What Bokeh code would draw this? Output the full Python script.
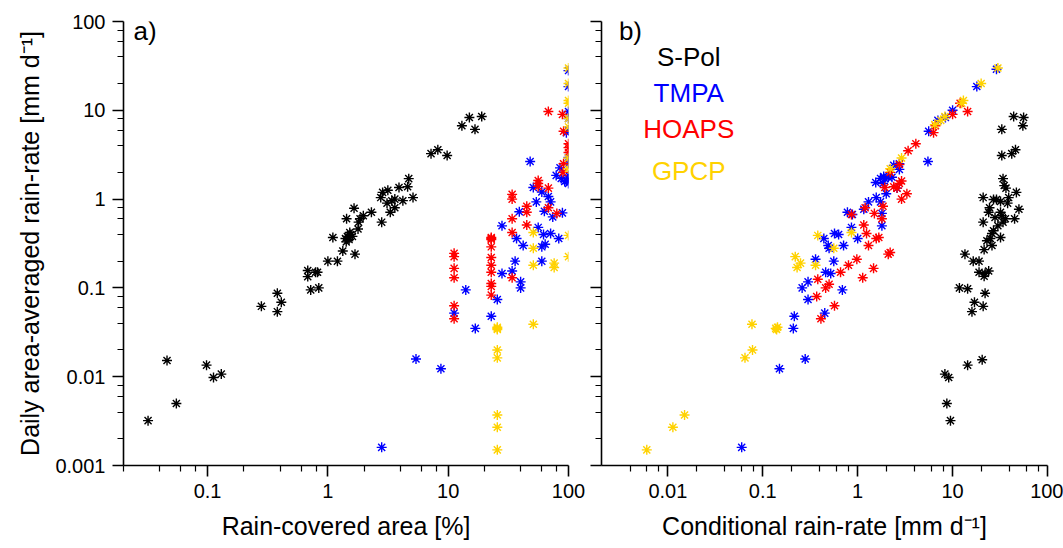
from bokeh.plotting import figure
from bokeh.layouts import row
from bokeh.models import FixedTicker, CustomJSTickFormatter, Label, Range1d
from bokeh.embed import file_html
from bokeh.resources import INLINE

# ---------------- data ----------------
# Panel a): rain-covered area [%] vs daily area-averaged rain-rate [mm/d]
spol_area = [0.032, 0.046, 0.055, 0.098, 0.112, 0.13, 0.28, 0.38, 0.41, 0.38, 0.72, 0.84,
             0.68, 0.79, 0.68, 0.82, 1.0, 1.2, 1.33, 1.68, 1.1, 1.4, 1.45, 1.5, 1.55, 1.42,
             1.52, 1.48, 1.6, 1.78, 1.8, 1.85, 1.97, 1.43, 1.65, 2.3, 2.8, 2.75, 2.85, 3.15,
             3.1, 3.4, 3.6, 3.3, 3.6, 4.2, 3.9, 4.6, 4.7, 5.1, 7.2, 8.2, 9.8, 13, 15, 19, 16.7]
spol_rate_a = [0.0032, 0.0152, 0.005, 0.0135, 0.0098, 0.0107, 0.062, 0.087, 0.069, 0.054, 0.095, 0.10,
               0.134, 0.15, 0.157, 0.15, 0.2, 0.2, 0.26, 0.24, 0.37, 0.36, 0.38, 0.35, 0.4, 0.33,
               0.42, 0.37, 0.38, 0.46, 0.55, 0.6, 0.65, 0.6, 0.79, 0.71, 0.55, 1.04, 1.19, 1.26,
               0.9, 0.96, 1.0, 0.71, 0.8, 0.96, 1.35, 1.38, 1.7, 1.04, 3.25, 3.6, 3.1, 6.7, 8.3, 8.5, 6.1]

tmpa_area = [2.8, 5.4, 8.7, 16.8, 11.2, 22.8, 14, 25.6, 28, 34, 40, 40, 36, 60, 42, 60, 64, 62,
             71, 83, 37, 28, 56, 39, 63, 74, 89, 51, 60, 54, 68, 71, 48, 79, 87, 96, 100, 100,
             85, 100, 100, 96, 100, 100, 100, 100, 100, 100, 93]
tmpa_rate_a = [0.0016, 0.0158, 0.0123, 0.035, 0.052, 0.048, 0.095, 0.074, 0.145, 0.155, 0.117, 0.1,
               0.2, 0.2, 0.3, 0.29, 0.31, 0.4, 0.41, 0.36, 0.36, 0.5, 0.48, 0.72, 0.73, 0.63, 0.7,
               1.35, 1.2, 0.93, 1.07, 0.93, 2.65, 1.85, 1.71, 1.62, 1.85, 1.5, 2.25, 2.52, 2.94,
               5.6, 6.0, 8.1, 9.7, 18.5, 28, 1.7, 1.58]

hoaps_area = [11.2, 11.2, 11.2, 11.2, 11.2, 11.2, 22.8, 22.8, 22.8, 22.8, 22.8, 22.8, 22.8,
              22.8, 22.8, 22.8, 34, 34, 34, 34, 34, 45, 45, 45, 56, 56, 56, 68, 68, 80, 68, 89,
              91, 91, 100, 100, 100, 90]
hoaps_rate_a = [0.245, 0.225, 0.166, 0.13, 0.063, 0.045, 0.37, 0.35, 0.36, 0.29, 0.22, 0.18, 0.15,
                0.112, 0.104, 0.083, 1.13, 1.0, 0.6, 0.42, 0.13, 0.83, 0.71, 0.51, 1.62, 1.5, 1.39,
                1.33, 0.8, 0.69, 9.7, 9.0, 5.8, 2.5, 4.2, 3.8, 3.35, 2.0]

gpcp_area = [100, 100, 100, 100, 100, 100, 100, 100, 100, 100, 51, 51, 76, 76, 51, 51,
             25.6, 25.6, 25.6, 25.6, 25.6, 25.6, 25.6, 25.6]
gpcp_rate_a = [30, 20, 12.9, 12, 8.1, 6.5, 2.9, 2.2, 0.39, 0.225, 0.42, 0.28, 0.19, 0.17, 0.18, 0.039,
               0.036, 0.034, 0.035, 0.02, 0.0163, 0.0037, 0.0027, 0.0015]

# Panel b): conditional rain-rate [mm/d] vs daily area-averaged rain-rate [mm/d]
spol_cond = [9.5, 8.7, 8.3, 9.1, 14.4, 20.5, 11.8, 14.4, 16, 17, 21, 22, 19, 24, 21.5, 22,
             44, 56, 55, 33, 33, 42, 46, 34, 35, 36.5, 21, 27, 29, 32, 39, 47, 50, 24.5, 24,
             32, 33, 36, 34, 45, 21, 27, 26, 25, 23, 32, 21.5, 13.5, 16.5, 19, 30, 28, 38, 26]
spol_rate_b = [0.0032, 0.005, 0.0107, 0.0098, 0.0135, 0.0155, 0.1, 0.098, 0.054, 0.069, 0.062, 0.087,
               0.15, 0.155, 0.135, 0.145, 8.5, 8.3, 6.7, 6.1, 3.1, 3.25, 3.6, 1.7, 1.42, 1.33, 1.04,
               0.99, 0.99, 0.94, 1.04, 1.19, 0.77, 0.8, 0.71, 0.71, 0.65, 0.6, 0.55, 0.6, 0.55,
               0.44, 0.41, 0.36, 0.34, 0.37, 0.27, 0.24, 0.2, 0.2, 0.5, 0.62, 0.9, 0.3]

tmpa_cond = [0.06, 0.15, 0.28, 0.21, 0.215, 0.3, 0.26, 0.3, 0.45, 0.46, 0.36, 0.52, 0.56, 0.69,
             0.44, 0.49, 0.5, 0.57, 0.63, 0.71, 1.0, 0.86, 0.78, 0.88, 1.16, 1.3, 1.57, 1.74, 1.8,
             1.8, 1.55, 1.74, 1.88, 1.93, 2.1, 2.3, 2.4, 2.75, 1.85, 2.0, 2.6, 2.75, 5.5, 5.6,
             7.0, 8.4, 10, 18, 29]
tmpa_rate_b = [0.0016, 0.0123, 0.0158, 0.035, 0.048, 0.074, 0.1, 0.117, 0.052, 0.15, 0.21, 0.145,
               0.2, 0.095, 0.36, 0.3, 0.28, 0.41, 0.4, 0.3, 0.36, 0.48, 0.71, 0.67, 0.77, 0.93,
               1.04, 0.93, 0.69, 0.5, 1.54, 1.71, 1.8, 1.7, 1.76, 1.76, 2.4, 2.16, 1.5, 1.15, 1.33,
               2.5, 2.65, 5.8, 7.7, 8.3, 10, 18.5, 29]

hoaps_cond = [0.41, 0.37, 0.38, 0.46, 0.5, 0.57, 0.66, 0.8, 0.98, 1.13, 1.47, 1.24, 1.3, 1.57,
              1.67, 1.16, 1.5, 1.85, 1.8, 1.2, 0.86, 2.1, 2.2, 1.93, 2.4, 2.6, 2.75, 2.9, 3.3,
              2.9, 2.75, 3.4, 2.2, 4.1, 6.3, 6.6, 10, 12, 14.4]
hoaps_rate_b = [0.045, 0.08, 0.125, 0.1, 0.11, 0.063, 0.15, 0.18, 0.21, 0.13, 0.166, 0.41, 0.3, 0.36,
                0.37, 0.51, 0.69, 0.83, 0.6, 0.8, 0.67, 0.24, 0.25, 1.35, 1.38, 1.33, 1.5, 1.6, 1.15,
                1.0, 2.45, 3.5, 2.0, 4.2, 5.6, 6.7, 9.0, 12, 9.7]

gpcp_cond = [0.006, 0.0113, 0.015, 0.065, 0.078, 0.077, 0.137, 0.143, 0.14, 0.22, 0.25, 0.23,
             0.36, 0.38, 0.56, 0.86, 2.2, 2.9, 6.5, 7.5, 8.3, 13, 12.5, 20, 30]
gpcp_rate_b = [0.0015, 0.0027, 0.0037, 0.0163, 0.02, 0.039, 0.035, 0.036, 0.034, 0.225, 0.19, 0.17,
               0.18, 0.39, 0.28, 0.42, 2.2, 2.9, 6.9, 7.7, 8.5, 12.9, 12, 20, 30]

series_names = ["S-Pol", "TMPA", "HOAPS", "GPCP"]
series_colors = ["#000000", "#0000FF", "#FF0000", "#FFD200"]

y_major = [0.001, 0.01, 0.1, 1, 10, 100]
x_major = [0.001, 0.01, 0.1, 1, 10, 100]
decade_minor = [2, 4, 6, 8]

# ---------------- styling ----------------
FONT = "Liberation Sans"


def minors(lo_exp, hi_exp):
    out = []
    for e in range(lo_exp, hi_exp):
        for m in decade_minor:
            out.append(m * 10.0 ** e)
    return out


fmt_code = "return String(Number(tick.toPrecision(3)));"


def style_axes(p, xmin_minor, show_y_labels):
    p.outline_line_color = None
    p.grid.visible = False
    p.background_fill_color = "white"
    p.border_fill_color = "white"
    for ax in (p.xaxis[0], p.yaxis[0]):
        ax.axis_line_width = 1.6
        ax.axis_line_color = "black"
        ax.major_tick_line_width = 1.6
        ax.minor_tick_line_width = 1.2
        ax.major_tick_in = 0
        ax.major_tick_out = 11
        ax.minor_tick_in = 0
        ax.minor_tick_out = 6
        ax.major_label_text_font = FONT
        ax.major_label_text_font_size = "20px"
        ax.major_label_text_color = "black"
        ax.axis_label_text_font = FONT
        ax.axis_label_text_font_size = "25px"
        ax.axis_label_text_font_style = "normal"
        ax.axis_label_text_color = "black"
        ax.major_label_standoff = 7
    p.xaxis[0].ticker = FixedTicker(ticks=x_major, minor_ticks=[v for v in minors(-3, 2) if v >= xmin_minor])
    p.yaxis[0].ticker = FixedTicker(ticks=y_major, minor_ticks=minors(-3, 2))
    p.xaxis[0].formatter = CustomJSTickFormatter(code=fmt_code)
    p.xaxis[0].axis_label_standoff = 11
    p.yaxis[0].axis_label_standoff = 8
    if show_y_labels:
        p.yaxis[0].formatter = CustomJSTickFormatter(code=fmt_code)
    else:
        p.yaxis[0].formatter = CustomJSTickFormatter(code="return '';")
        p.yaxis[0].major_label_standoff = 0


def add_points(p, xs_list, ys_list):
    for xs, ys, c in zip(xs_list, ys_list, series_colors):
        p.scatter(xs, ys, marker="asterisk", size=10, line_color=c, line_width=1.4)


# ---------------- panel a ----------------
pa = figure(width=585, height=548, x_axis_type="log", y_axis_type="log",
            x_range=Range1d(0.02, 100), y_range=Range1d(0.001, 100),
            output_backend="svg", toolbar_location=None,
            min_border_left=123, min_border_right=17, min_border_top=21, min_border_bottom=83)
style_axes(pa, 0.02, True)
pa.xaxis[0].axis_label = "Rain-covered area [%]"
pa.yaxis[0].axis_label = "Daily area-averaged rain-rate [mm d\u207b\u00b9]"
add_points(pa, [spol_area, tmpa_area, hoaps_area, gpcp_area],
           [spol_rate_a, tmpa_rate_a, hoaps_rate_a, gpcp_rate_a])
pa.add_layout(Label(x=0.0242, y=78, text="a)", text_font=FONT, text_font_size="26px",
                    text_color="black", text_baseline="alphabetic", text_align="left"))

# ---------------- panel b ----------------
pb = figure(width=478, height=548, x_axis_type="log", y_axis_type="log",
            x_range=Range1d(0.002, 100), y_range=Range1d(0.001, 100),
            output_backend="svg", toolbar_location=None,
            min_border_left=16, min_border_right=16, min_border_top=21, min_border_bottom=83)
style_axes(pb, 0.003, False)
pb.xaxis[0].axis_label = "Conditional rain-rate [mm d\u207b\u00b9]"
add_points(pb, [spol_cond, tmpa_cond, hoaps_cond, gpcp_cond],
           [spol_rate_b, tmpa_rate_b, hoaps_rate_b, gpcp_rate_b])
pb.add_layout(Label(x=0.00305, y=78, text="b)", text_font=FONT, text_font_size="26px",
                    text_color="black", text_baseline="alphabetic", text_align="left"))

legend_y = [40, 15.8, 6.1, 2.05]
for name, c, yy in zip(series_names, series_colors, legend_y):
    pb.add_layout(Label(x=0.0166, y=yy, text=name, text_font=FONT, text_font_size="26px",
                        text_color=c, text_baseline="alphabetic", text_align="center"))

layout = row(pa, pb)
open("out.html", "w").write(file_html(layout, INLINE))
